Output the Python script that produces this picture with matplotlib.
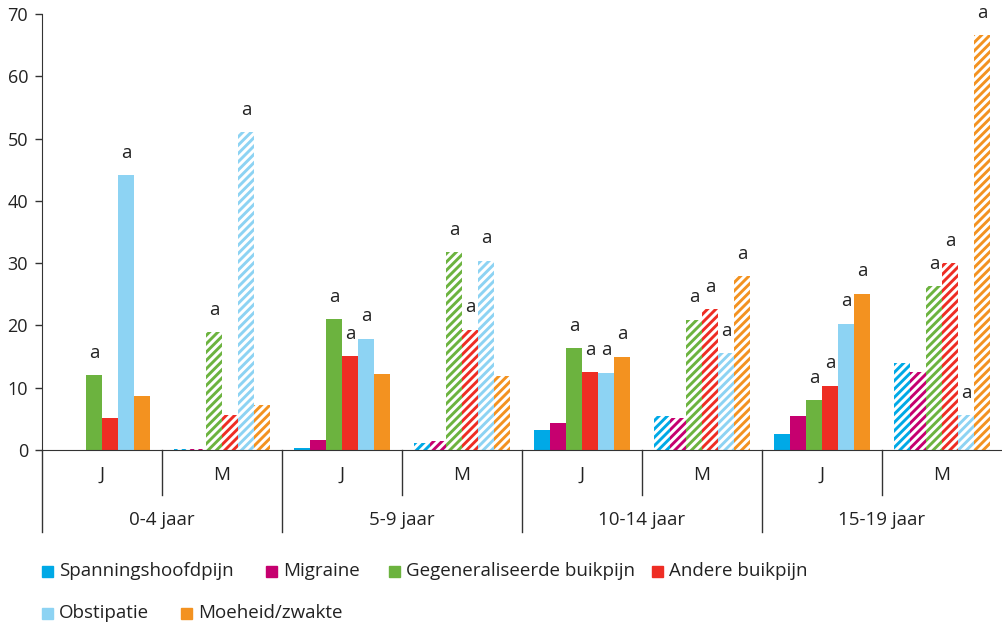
import numpy as np
import matplotlib
matplotlib.use("Agg")
import matplotlib.pyplot as plt
from matplotlib.patches import Rectangle

plt.rcParams["font.family"] = ["Open Sans", "DejaVu Sans"]
plt.rcParams["hatch.linewidth"] = 2.1

# ── data ─────────────────────────────────────────────────────────────────────
age_groups = ["0-4 jaar", "5-9 jaar", "10-14 jaar", "15-19 jaar"]
sexes = ["J", "M"]
series = ["Spanningshoofdpijn", "Migraine", "Gegeneraliseerde buikpijn",
          "Andere buikpijn", "Obstipatie", "Moeheid/zwakte"]
colors = ["#00a9e6", "#c6006f", "#6cb33f", "#ee2d24", "#8dd3f3", "#f39220"]

# values per series, order: 0-4 J, 0-4 M, 5-9 J, 5-9 M, 10-14 J, 10-14 M, 15-19 J, 15-19 M
spanning = [0.0, 0.2, 0.4, 1.1, 3.2, 5.4, 2.5, 13.9]
migraine = [0.0, 0.1, 1.6, 1.4, 4.3, 5.1, 5.4, 12.6]
gegen_buik = [12.0, 18.9, 21.0, 31.8, 16.3, 20.9, 8.0, 26.3]
andere_buik = [5.2, 5.6, 15.1, 19.3, 12.5, 22.6, 10.3, 30.0]
obstipatie = [44.1, 51.0, 17.9, 30.4, 12.4, 15.5, 20.3, 5.6]
moeheid = [8.7, 7.2, 12.2, 11.9, 15.0, 27.9, 25.1, 66.6]

# significance marker "a"
sig_spanning = [0, 0, 0, 0, 0, 0, 0, 0]
sig_migraine = [0, 0, 0, 0, 0, 0, 0, 0]
sig_gegen = [1, 1, 1, 1, 1, 1, 1, 1]
sig_andere = [0, 0, 1, 1, 1, 1, 1, 1]
sig_obstipatie = [1, 1, 1, 1, 1, 1, 1, 1]
sig_moeheid = [0, 0, 0, 0, 1, 1, 1, 1]

values = [spanning, migraine, gegen_buik, andere_buik, obstipatie, moeheid]
sigs = [sig_spanning, sig_migraine, sig_gegen, sig_andere, sig_obstipatie, sig_moeheid]

TXT = "#222222"
LINE = "#333333"
FS = 13.5

# ── figure ───────────────────────────────────────────────────────────────────
W, H = 1002, 626
fig = plt.figure(figsize=(W / 100, H / 100), dpi=100)
ax = fig.add_axes([42 / W, 1 - 450 / H, 960 / W, 436 / H])

n_sub = len(age_groups) * len(sexes)
x = np.arange(n_sub) + 0.5
bw = 0.8 / len(series)

for k, (name, col, vals, sg) in enumerate(zip(series, colors, values, sigs)):
    xs = x + (k - 2.5) * bw
    for i, (xi, v) in enumerate(zip(xs, vals)):
        if i % 2 == 0:
            ax.bar(xi, v, bw, color=col, linewidth=0)
        else:
            ax.bar(xi, v, bw, facecolor="white", edgecolor=col, linewidth=0,
                   hatch="////")
        if sg[i]:
            ax.annotate("a", (xi, v), xytext=(0, 12.5), textcoords="offset points",
                        ha="center", va="baseline", fontsize=FS, color=TXT)

ax.set_xlim(0, n_sub)
ax.set_ylim(0, 70)
ax.set_yticks(range(0, 71, 10))
ax.tick_params(axis="y", labelsize=FS - 0.5, length=5, width=1, color=LINE,
               labelcolor=TXT, pad=5)
ax.set_xticks([])
for s in ["top", "right"]:
    ax.spines[s].set_visible(False)
ax.spines["left"].set_color(LINE)
ax.spines["bottom"].set_color(LINE)

# category axis below
tr = ax.get_xaxis_transform()
for i in range(n_sub):
    ax.text(i + 0.5, -0.057, sexes[i % 2], transform=tr, ha="center", va="center",
            fontsize=FS, color=TXT)
    depth = -0.188 if i % 2 == 0 else -0.103
    ax.plot([i, i], [0, depth], transform=tr, clip_on=False, color=LINE, lw=1)
for g, lab in enumerate(age_groups):
    ax.text(2 * g + 1, -0.161, lab, transform=tr, ha="center", va="center",
            fontsize=FS, color=TXT)

# legend (flow layout)
leg_pos = [(42, 571), (266, 571), (389, 571), (652, 571), (42, 613), (181, 613)]
for (px, py), name, col in zip(leg_pos, series, colors):
    fig.patches.append(Rectangle((px / W, 1 - (py + 5.5) / H), 11 / W, 11 / H,
                                 transform=fig.transFigure, color=col))
    fig.text((px + 17) / W, 1 - py / H, name, ha="left", va="center",
             fontsize=FS, color=TXT)

fig.savefig("out.png", dpi=100)
